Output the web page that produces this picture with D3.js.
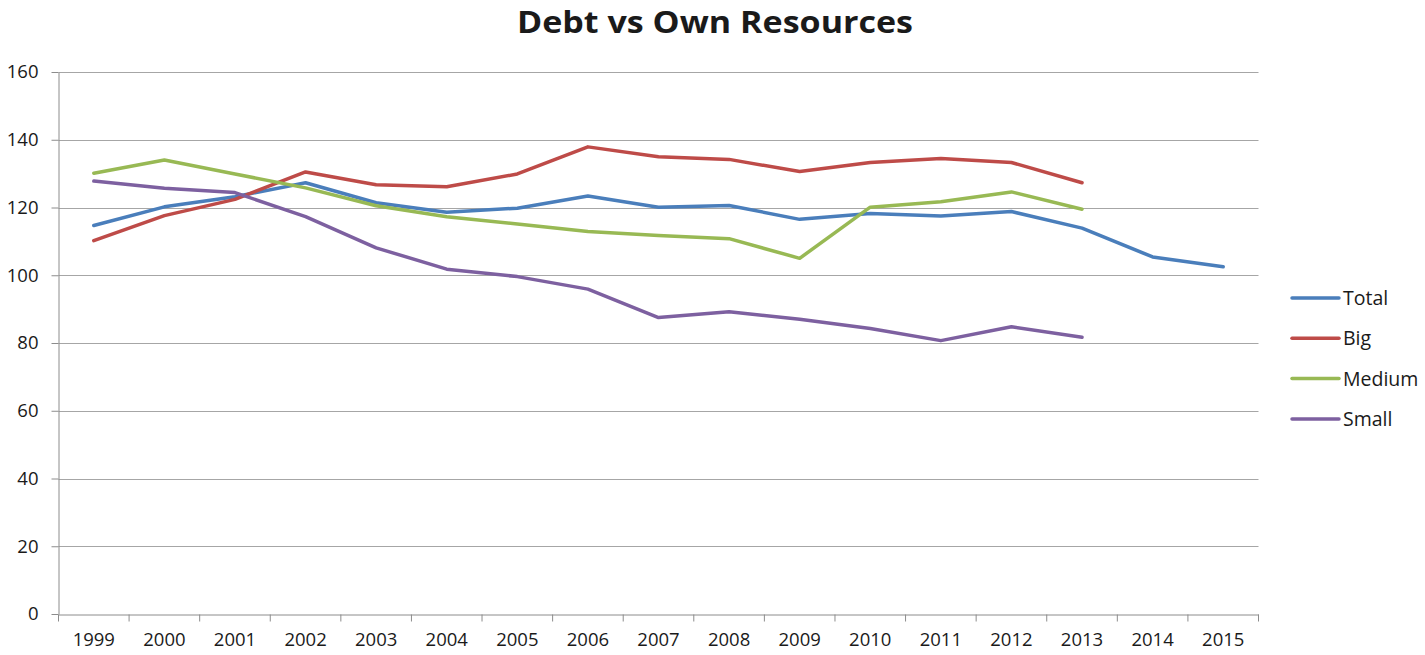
<!DOCTYPE html>
<html>
<head>
<meta charset="utf-8">
<script src="https://cdn.jsdelivr.net/npm/d3@7"></script>
<style>
  html, body { margin: 0; padding: 0; background: #ffffff; }
  svg { display: block; }
  text { font-family: "Open Sans", "DejaVu Sans", sans-serif; fill: #1a1a1a; }
</style>
</head>
<body>
<svg id="chart" width="1425" height="655"></svg>
<script>
// Years on the category axis
const years = ["1999","2000","2001","2002","2003","2004","2005","2006","2007","2008",
               "2009","2010","2011","2012","2013","2014","2015"];

// Debt-to-own-resources ratio by company size (null = no data)
const total  = [114.7, 120.2, 123.2, 127.3, 121.4, 118.6, 119.8, 123.4, 120.1, 120.6,
                116.5, 118.2, 117.5, 118.8, 113.9, 105.4, 102.5];
const big    = [110.2, 117.6, 122.4, 130.5, 126.7, 126.1, 129.9, 137.9, 135.0, 134.2,
                130.6, 133.3, 134.5, 133.3, 127.3, null, null];
const medium = [130.1, 134.0, 129.9, 125.8, 120.5, 117.3, 115.1, 112.9, 111.7, 110.8,
                105.0, 120.1, 121.7, 124.6, 119.5, null, null];
const small  = [127.8, 125.7, 124.4, 117.3, 108.1, 101.8, 99.6, 95.9, 87.5, 89.2,
                87.0, 84.3, 80.7, 84.8, 81.7, null, null];

const seriesNames  = ["Total", "Big", "Medium", "Small"];
const seriesValues = [total, big, medium, small];
const seriesColors = ["#4a7ebb", "#be4b48", "#98b954", "#7d60a0"];

const yTicks = [0, 20, 40, 60, 80, 100, 120, 140, 160];

const svg = d3.select("#chart");
const plot = { left: 58.5, right: 1258.5, top: 72, bottom: 614 };

const x = d3.scaleBand().domain(years).range([plot.left, plot.right]).padding(0);
const y = d3.scaleLinear().domain([0, 160]).range([plot.bottom, plot.top]);

// Title
svg.append("text")
  .attr("x", 715).attr("y", 33)
  .attr("text-anchor", "middle")
  .attr("font-size", 31).attr("font-weight", 700)
  .attr("textLength", 396).attr("lengthAdjust", "spacingAndGlyphs")
  .text("Debt vs Own Resources");

// Horizontal gridlines
svg.append("g")
  .selectAll("line")
  .data(yTicks.filter(d => d > 0))
  .join("line")
  .attr("x1", plot.left).attr("x2", plot.right)
  .attr("y1", d => Math.round(y(d)) + 0.5).attr("y2", d => Math.round(y(d)) + 0.5)
  .attr("stroke", "#a6a6a6").attr("stroke-width", 1);

// Y axis
const yAxis = svg.append("g")
  .attr("transform", `translate(${plot.left},0)`)
  .call(d3.axisLeft(y).tickValues(yTicks).tickSize(7).tickPadding(13).tickSizeOuter(0));
yAxis.select(".domain").attr("stroke", "#8c8c8c");
yAxis.selectAll(".tick line").attr("stroke", "#8c8c8c");
yAxis.selectAll(".tick text")
  .attr("font-size", 18.5).attr("font-family", "Open Sans, sans-serif").attr("fill", "#1a1a1a");

// X axis with ticks between categories
const xAxis = svg.append("g")
  .attr("transform", `translate(0,${plot.bottom + 0.5})`)
  .call(d3.axisBottom(x).tickSize(0).tickPadding(18));
xAxis.select(".domain").attr("stroke", "#8c8c8c");
xAxis.selectAll(".tick text")
  .attr("font-size", 18.5).attr("font-family", "Open Sans, sans-serif").attr("fill", "#1a1a1a");
xAxis.append("g")
  .selectAll("line")
  .data(years.map(d => x(d)).concat([plot.right]))
  .join("line")
  .attr("x1", d => d).attr("x2", d => d)
  .attr("y1", 0).attr("y2", 7)
  .attr("stroke", "#8c8c8c");

// Series lines
const line = d3.line()
  .defined(d => d.v != null)
  .x(d => x(d.year) + x.bandwidth() / 2)
  .y(d => y(d.v));

seriesValues.forEach((vals, i) => {
  svg.append("path")
    .datum(years.map((yr, j) => ({ year: yr, v: vals[j] })))
    .attr("fill", "none")
    .attr("stroke", seriesColors[i])
    .attr("stroke-width", 3.5)
    .attr("stroke-linejoin", "round")
    .attr("stroke-linecap", "round")
    .attr("d", line);
});

// Legend
const legend = svg.append("g");
seriesNames.forEach((name, i) => {
  const ly = 298 + i * 40.3;
  legend.append("line")
    .attr("x1", 1292).attr("x2", 1339)
    .attr("y1", ly).attr("y2", ly)
    .attr("stroke", seriesColors[i]).attr("stroke-width", 3.5)
    .attr("stroke-linecap", "round");
  legend.append("text")
    .attr("x", 1343).attr("y", ly + 7)
    .attr("font-size", 19.5)
    .text(name);
});
</script>
</body>
</html>
